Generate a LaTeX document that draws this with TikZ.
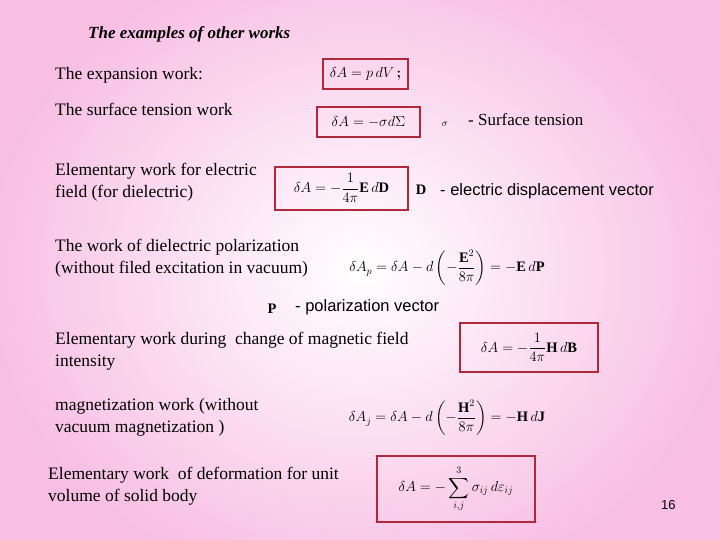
\documentclass[tikz,border=0pt]{standalone}
\usepackage{amsmath}
\usepackage{fontspec}
\setmainfont{Liberation Serif}
\newfontfamily\sansf{Liberation Sans}
\definecolor{boxred}{RGB}{175,40,60}
\definecolor{bgpink}{RGB}{248,190,228}
\begin{document}
\begin{tikzpicture}[x=1pt,y=-1pt,
  txt/.style={anchor=base west,inner sep=0pt,font=\fontsize{17.5}{22}\selectfont,align=left},
  stxt/.style={anchor=base west,inner sep=0pt,font=\sansf\fontsize{16.5}{20}\selectfont},
  eq/.style={inner sep=0pt,font=\fontsize{14.5}{16}\selectfont},
  frame/.style={draw=boxred,line width=2pt}]
\useasboundingbox (0,0) rectangle (720,540);
\fill[bgpink] (0,0) rectangle (720,540);
\shade[inner color=white,outer color=bgpink] (-20,-60) rectangle (740,600);
\node[txt,font=\bfseries\itshape\fontsize{17}{18}\selectfont] (title) at (88,39) {The examples of other works};
\node[txt] (t1) at (55,80) {The expansion work:};
\node[txt] (t2) at (55,116) {The surface tension work};
\node[txt] (t3) at (55,198) {Elementary work for electric\\field (for dielectric)};
\node[txt] (t4) at (55,273) {The work of dielectric polarization\\(without filed excitation in vacuum)};
\node[txt] (t5) at (55,366) {Elementary work during\ \ change of magnetic field\\intensity};
\node[txt] (t6) at (55,432) {magnetization work (without\\vacuum magnetization )};
\node[txt] (t7) at (48,501) {Elementary work\ \ of deformation for unit\\volume of solid body};
% boxes
\draw[frame] (323,59) rectangle (408,89);
\node[eq] (e1) at (365.5,74) {$\delta A = p\,dV\,\boldsymbol{;}$};
\draw[frame] (317,107) rectangle (420,137);
\node[eq] (e2) at (368.5,122) {$\delta A = -\sigma d\Sigma$};
\node[eq] (sig) at (445,124) {$\scriptstyle\sigma$};
\node[stxt,font=\fontsize{17}{20}\selectfont] (st) at (468,126) {- Surface tension};
\draw[frame] (275,167) rectangle (408,210);
\node[eq] (e3) at (341.5,188) {$\delta A = -\dfrac{1}{4\pi}\mathbf{E}\,d\mathbf{D}$};
\node[eq] (D) at (421,190) {$\mathbf{D}$};
\node[stxt] (dv) at (440,196) {- electric displacement vector};
\node[eq] (e4) at (447,268) {$\delta A_p = \delta A - d\left(-\dfrac{\mathbf{E}^2}{8\pi}\right) = -\mathbf{E}\,d\mathbf{P}$};
\node[eq] (P) at (272,309) {$\mathbf{P}$};
\node[stxt] (pv) at (295,311) {- polarization vector};
\draw[frame] (460,323) rectangle (598,372);
\node[eq] (e5) at (529,347.5) {$\delta A = -\dfrac{1}{4\pi}\mathbf{H}\,d\mathbf{B}$};
\node[eq] (e6) at (447,418) {$\delta A_j = \delta A - d\left(-\dfrac{\mathbf{H}^2}{8\pi}\right) = -\mathbf{H}\,d\mathbf{J}$};
\draw[frame] (377,456) rectangle (535,522);
\node[eq] (e7) at (456,489) {$\delta A = -\displaystyle\sum_{i,j}^{3}\sigma_{ij}\,d\varepsilon_{ij}$};
\node[stxt,font=\sansf\fontsize{13}{14}\selectfont] (pg) at (661,509) {16};
\end{tikzpicture}
\end{document}
